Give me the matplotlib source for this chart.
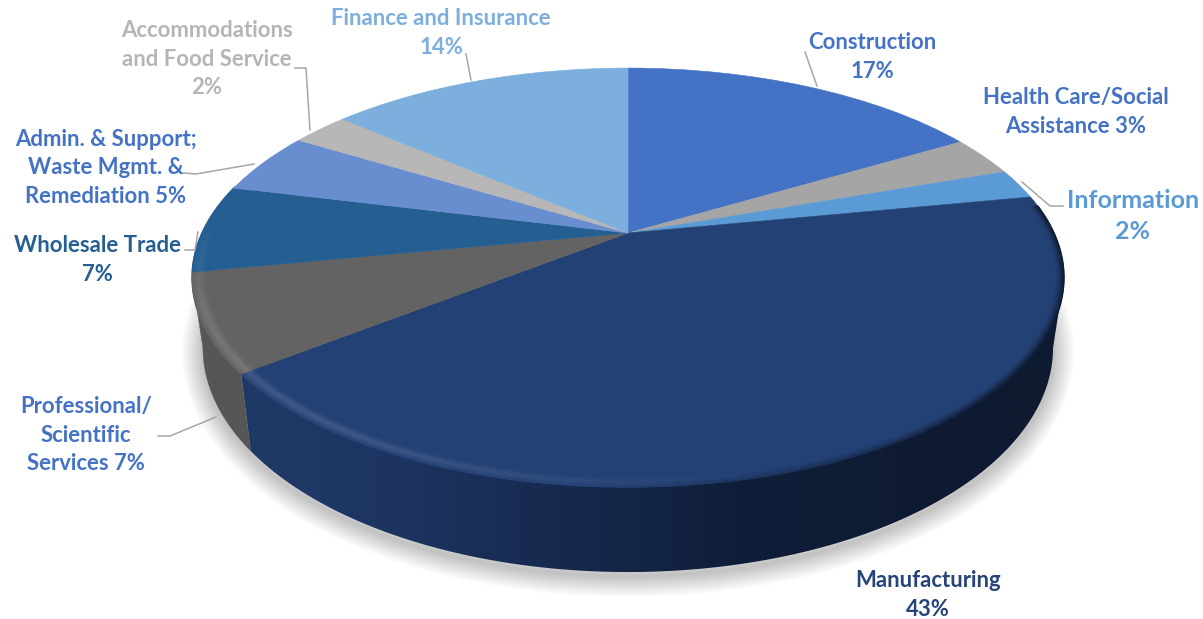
import numpy as np
import matplotlib
matplotlib.use('Agg')
import matplotlib.pyplot as plt
from matplotlib.collections import LineCollection
from matplotlib.colors import LinearSegmentedColormap, to_rgb
from matplotlib.patches import Polygon
from matplotlib.transforms import Transform

plt.rcParams['font.family'] = ['Lato', 'DejaVu Sans']

categories = ['Construction', 'Health Care/Social Assistance', 'Information', 'Manufacturing',
              'Professional/Scientific Services', 'Wholesale Trade',
              'Admin. & Support; Waste Mgmt. & Remediation', 'Accommodations and Food Service',
              'Finance and Insurance']
shares = [16.6, 3.1, 2.3, 42.5, 7.5, 6.8, 4.8, 2.6, 13.8]
slice_colors = ['#4472C4', '#A5A5A5', '#5B9BD5', '#244175', '#636363', '#255E91',
                '#698ED0', '#B7B7B7', '#7CAFDD']
label_texts = ['Construction\n17%', 'Health Care/Social\nAssistance 3%', 'Information\n2%',
               'Manufacturing\n43%', 'Professional/\nScientific\nServices 7%',
               'Wholesale Trade\n7%', 'Admin. & Support;\nWaste Mgmt. &\nRemediation 5%',
               'Accommodations\nand Food Service\n2%', 'Finance and Insurance\n14%']
label_colors = ['#4472C4', '#4472C4', '#5B9BD5', '#264478', '#4472C4', '#255E91',
                '#4472C4', '#B5B5B5', '#7CAFDD']
label_x = [872, 1076, 1133, 928, 86, 97, 106, 207, 441]
label_y = [57, 112, 216, 595, 435, 260, 168, 59, 33]
label_size = [15.9, 15.9, 18, 15.9, 15.9, 15.9, 15.9, 15.9, 15.9]
leaders = [[(805, 52), (817, 86)],
           [(1022, 182), (1050, 206), (1063, 206)],
           [(158, 436), (170, 436), (216, 417)],
           [(185, 250), (195, 250), (198, 232)],
           [(184, 173), (196, 174), (254, 164)],
           [(295, 68), (306, 68), (310, 130)],
           [(466, 54), (471, 80)]]

CX, CY = 628, 233
K = 0.2125
SX, SY = 426, 200
DEPTH = 67
SHRINK = 0.975


class Persp(Transform):
    # unit pie -> picture pixels, front of the pie comes out bigger
    input_dims = output_dims = 2

    def transform_non_affine(self, values):
        v = np.asarray(values, dtype=float)
        den = 1 + K * v[:, 1]
        return np.column_stack([CX + SX * v[:, 0] / den, CY - SY * v[:, 1] / den])


def circle_pts(a0, a1, r=1.0, n=120):
    a = np.radians(np.linspace(a0, a1, n))
    return np.column_stack([r * np.sin(a), r * np.cos(a)])


def low_edge(c):
    # bottom rim of the pie, narrower than the top one
    p = Persp().transform_non_affine(c)
    p[:, 0] = CX + (p[:, 0] - CX) * SHRINK
    p[:, 1] += DEPTH / (1 + K * c[:, 1])
    return p


def side_poly(a0, a1):
    c = circle_pts(a0, a1)
    return np.vstack([Persp().transform_non_affine(c), low_edge(c)[::-1]])


fig = plt.figure(figsize=(12.03, 6.19), dpi=100)
ax = fig.add_axes([0, 0, 1, 1])
wedges, _ = ax.pie(shares, colors=slice_colors, startangle=90, counterclock=False, radius=1)
persp = Persp() + ax.transData
for w, col in zip(wedges, slice_colors):
    w.set_transform(persp)
    w.set_edgecolor(col)
    w.set_linewidth(0.4)
    w.set_zorder(5)

edges = np.cumsum([0] + shares) * 3.6
man_a1 = edges[4]
# where the top rim is widest, the wall starts and stops there
tangent = np.degrees(np.arcsin(K))

# soft shadow under the front
p = low_edge(circle_pts(92, 272))
p[:, 1] += 4
for lw in np.linspace(30, 2, 15):
    ax.plot(p[:, 0], p[:, 1], color='#000000', alpha=0.017, lw=lw, zorder=1,
            solid_capstyle='round')

# side wall, only manufacturing and professional show
cmap = LinearSegmentedColormap.from_list(
    'side', ['#203A68', '#1D3461', '#16294D', '#101E3A', '#0E1B33', '#0D1A30'])
im = ax.imshow(np.linspace(0, 1, 400).reshape(1, -1), cmap=cmap, aspect='auto',
               extent=(235, 1066, 580, 200), zorder=2)
im.set_clip_path(Polygon(side_poly(90 + tangent, man_a1), closed=True, transform=ax.transData))
ax.add_patch(Polygon(side_poly(man_a1, 270 - tangent), closed=True, fc='#565656', ec='#565656',
                     lw=0.3, zorder=2))


# rounded rim of the top face
def rim(a0, a1, base):
    base = np.array(to_rgb(base))
    segs, cols = [], []
    rings = np.linspace(0.955, 1.0, 16)
    angs = np.linspace(a0, a1, max(int(a1 - a0) * 2, 4))
    for r in rings:
        pts = circle_pts(a0, a1, r, len(angs))
        for j in range(len(angs) - 1):
            a = angs[j]
            hl = np.clip((a - 165) / 50, 0, 1) * np.clip((275 - a) / 30, 0, 1)
            hl = hl * np.exp(-((r - 0.985) / 0.011) ** 2)
            dk = np.clip((185 - a) / 60, 0, 1) * np.clip((r - 0.98) / 0.02, 0, 1) ** 1.5
            col = base + (1 - base) * 0.13 * hl
            col = col * (1 - 0.6 * dk)
            segs.append(pts[j:j + 2])
            cols.append(col)
    ax.add_collection(LineCollection(segs, colors=cols, linewidths=1.0, transform=persp,
                                     zorder=6, capstyle='round'))


for i in range(len(shares)):
    lo, hi = max(edges[i], 82), min(edges[i + 1], 284)
    if hi > lo:
        rim(lo, hi, slice_colors[i])

for pts in leaders:
    xs, ys = zip(*pts)
    ax.plot(xs, ys, color='#A6A6A6', lw=1.1, zorder=7)

for txt, col, x, y, fs in zip(label_texts, label_colors, label_x, label_y, label_size):
    ax.text(x, y, txt, color=col, fontsize=fs, fontweight='bold', ha='center', va='center',
            linespacing=1.42, zorder=8)

ax.set_aspect('auto')
ax.set_xlim(0, 1203)
ax.set_ylim(619, 0)
ax.set_axis_off()
fig.savefig('out.png', dpi=100)
